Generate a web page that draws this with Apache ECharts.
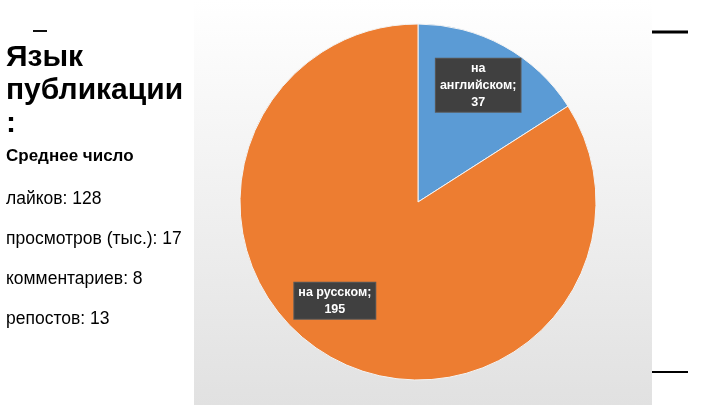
<!DOCTYPE html>
<html><head><meta charset="utf-8">
<script src="https://cdn.jsdelivr.net/npm/echarts@6/dist/echarts.min.js"></script>
<style>html,body{margin:0;padding:0;background:#fff}#c{width:720px;height:405px}</style>
</head><body><div id="c"></div>
<script>
const categories = ['на английском', 'на русском'];
const values = [37, 195];
const titleLines = ['Язык', 'публикации', ':'];
const statsHeader = 'Среднее число';
const statNames = ['лайков', 'просмотров (тыс.)', 'комментариев', 'репостов'];
const statValues = [128, 17, 8, 13];

const chart = echarts.init(document.getElementById('c'), null, {renderer: 'canvas'});
const labelOffsets = [[16, -36], [-39, 18]];

const graphics = [
  {type: 'rect', z: -10, shape: {x: 194, y: 0, width: 458, height: 405},
   style: {fill: new echarts.graphic.LinearGradient(0, 0, 0, 1, [{offset: 0, color: '#ffffff'}, {offset: 1, color: '#e1e1e1'}])}},
  {type: 'line', shape: {x1: 33, y1: 31, x2: 47, y2: 31}, style: {stroke: '#111', lineWidth: 2}},
  {type: 'line', shape: {x1: 652, y1: 32, x2: 688, y2: 32}, style: {stroke: '#000', lineWidth: 3}},
  {type: 'line', shape: {x1: 652, y1: 372, x2: 688, y2: 372}, style: {stroke: '#000', lineWidth: 2}},
  {type: 'text', left: 6, top: 41, style: {text: titleLines.join('\n'), font: 'bold 30px "Liberation Sans", Arial', fill: '#000', lineHeight: 33}},
  {type: 'text', left: 6, top: 148, style: {text: statsHeader, font: 'bold 17px "Liberation Sans", Arial', fill: '#000'}}
];
statNames.forEach((n, i) => {
  graphics.push({type: 'text', left: 6, top: 190 + i * 40, style: {text: n + ': ' + statValues[i], font: '17.5px "Liberation Sans", Arial', fill: '#000'}});
});

chart.setOption({
  animation: false,
  graphic: graphics,
  series: [{
    type: 'pie',
    center: [418, 202],
    radius: [0, 178],
    startAngle: 90,
    clockwise: true,
    data: categories.map((c, i) => ({name: c, value: values[i]})),
    color: ['#5B9BD5', '#ED7D31'],
    itemStyle: {borderColor: '#f4f4f4', borderWidth: 1},
    label: {
      show: true,
      position: 'inside',
      formatter: p => (p.dataIndex === 0 ? 'на\nанглийском;\n' : 'на русском;\n') + p.value,
      color: '#fff',
      fontFamily: '"Liberation Sans", Arial',
      fontWeight: 'bold',
      fontSize: 12.5,
      lineHeight: 17,
      align: 'center',
      backgroundColor: '#404040',
      borderColor: '#595959',
      borderWidth: 1,
      padding: [1, 4, 1, 4]
    },
    labelLayout: p => ({dx: labelOffsets[p.dataIndex][0], dy: labelOffsets[p.dataIndex][1]}),
    labelLine: {show: false},
    emphasis: {disabled: true}
  }]
});
</script></body></html>
